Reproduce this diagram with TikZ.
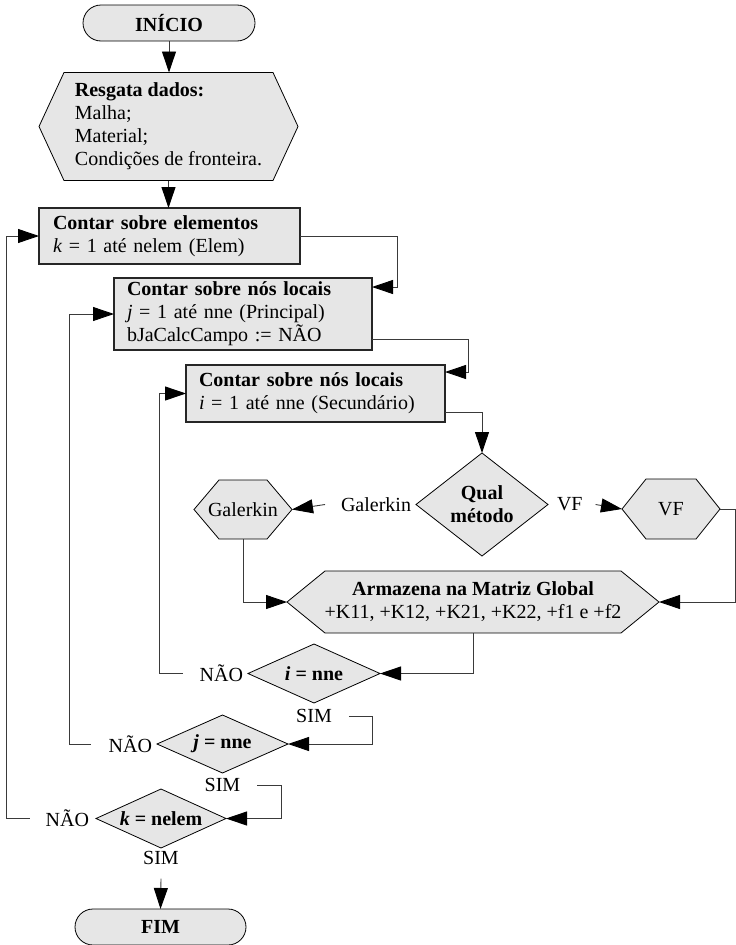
\documentclass[tikz,border=0pt]{standalone}
\usepackage{fontspec}
\setmainfont{Liberation Serif}
\usetikzlibrary{arrows.meta,calc}
\pgfdeclarelayer{bg}
\pgfsetlayers{bg,main}
\definecolor{shapefill}{HTML}{E6E6E6}
\definecolor{linegray}{HTML}{3A3A3A}
\tikzset{
  base/.style={inner sep=0pt, outer sep=0pt, font=\fontsize{20}{23}\selectfont},
  termnode/.style={base, draw=black, line width=0.8pt, fill=shapefill, rounded corners=18pt},
  boxnode/.style={base, draw=black!85, line width=1.2pt, fill=shapefill, align=left},
  shapenode/.style={base, draw=none, align=center},
  lbl/.style={base},
  shapeline/.style={draw=black, line width=0.8pt, fill=shapefill},
  arr/.style={-{Triangle[length=21pt,width=14pt,color=black]}, line width=0.9pt, draw=linegray},
  ln/.style={line width=0.9pt, draw=linegray}
}
\newcommand\diabg[1]{\path[shapeline] (#1.north) -- (#1.east) -- (#1.south) -- (#1.west) -- cycle;}
\newcommand\hexbg[2]{\path[shapeline] ($(#1.north west)+(#2,0)$) -- ($(#1.north east)+(-#2,0)$) -- (#1.east) -- ($(#1.south east)+(-#2,0)$) -- ($(#1.south west)+(#2,0)$) -- (#1.west) -- cycle;}
\begin{document}
\begin{tikzpicture}[x=1pt,y=-1pt]
\useasboundingbox (0,0) rectangle (736,945);
% nodes
\node[termnode, minimum width=172pt, minimum height=36pt] (start) at (169,23) {\textbf{INÍCIO}};
\node[shapenode, align=left, minimum width=259pt, minimum height=108pt] (resg) at (168.5,126.5)
  {\textbf{Resgata dados:}\\Malha;\\Material;\\Condições de fronteira.};
\node[boxnode, inner xsep=14pt, text width=233pt, minimum height=56pt] (b1) at (169.5,236)
  {\textbf{Contar sobre elementos}\\\textit{k} = 1 até nelem (Elem)};
\node[boxnode, inner xsep=13pt, text width=232pt, minimum height=72pt] (b2) at (243,314)
  {\textbf{Contar sobre nós locais}\\\textit{j} = 1 até nne (Principal)\\bJaCalcCampo := NÃO};
\node[boxnode, inner xsep=13pt, text width=233pt, minimum height=57pt] (b3) at (315.5,393.5)
  {\textbf{Contar sobre nós locais}\\\textit{i} = 1 até nne (Secundário)};
\node[shapenode, minimum width=132pt, minimum height=103pt] (qual) at (482,504.5) {\textbf{Qual}\\\textbf{método}};
\node[shapenode, minimum width=98pt, minimum height=59pt] (gal) at (243,509.5) {Galerkin};
\node[shapenode, minimum width=98pt, minimum height=60pt] (vf) at (671,509) {VF};
\node[shapenode, minimum width=372pt, minimum height=62pt] (arm) at (473,602)
  {\textbf{Armazena na Matriz Global}\\+K11, +K12, +K21, +K22, +f1 e +f2};
\node[shapenode, minimum width=132pt, minimum height=59pt] (di) at (314,673.5) {\textbf{\textit{i} = nne}};
\node[shapenode, minimum width=131pt, minimum height=58pt] (dj) at (222.5,744) {\textbf{\textit{j} = nne}};
\node[shapenode, minimum width=130pt, minimum height=59pt] (dk) at (161,818.5) {\textbf{\textit{k} = nelem}};
\node[termnode, minimum width=171pt, minimum height=36pt] (fim) at (160.5,927) {\textbf{FIM}};
% labels
\node[lbl, anchor=east] (lgal) at ($(qual.west)+(-5,0)$) {Galerkin};
\node[lbl, anchor=west] (lvf) at ($(qual.east)+(9,0)$) {VF};
\node[lbl, anchor=east] (naoi) at ($(di.west)+(-5,0)$) {NÃO};
\node[lbl, anchor=east] (naoj) at ($(dj.west)+(-5,0)$) {NÃO};
\node[lbl, anchor=east] (naok) at ($(dk.west)+(-7,0)$) {NÃO};
\node[lbl] (simi) at ($(di.south)+(0,13)$) {SIM};
\node[lbl] (simj) at ($(dj.south)+(0,12)$) {SIM};
\node[lbl] (simk) at ($(dk.south)+(0,10)$) {SIM};
% background shapes
\begin{pgfonlayer}{bg}
\hexbg{resg}{25}
\hexbg{gal}{25}
\hexbg{vf}{24}
\hexbg{arm}{38}
\diabg{qual}
\diabg{di}
\diabg{dj}
\diabg{dk}
\end{pgfonlayer}
% helper coordinates
\coordinate (c12) at (397,287);
\coordinate (c23) at (468,372);
\coordinate (cvf) at (735,509);
\coordinate (xi) at (159,0);
\coordinate (xj) at (69,0);
\coordinate (xk) at (6,0);
\coordinate (xsi) at (372,0);
\coordinate (xsj) at (281,0);
\path ($(naoi.west)+(-17,0)$) coordinate (pi);
\path ($(naoj.west)+(-18,0)$) coordinate (pj);
\path ($(naok.west)+(-16,0)$) coordinate (pk);
\path ($(simi.east)+(17,0)$) coordinate (si);
\path ($(simj.east)+(17,0)$) coordinate (sj);
% connectors
\draw[arr] (start.south) -- (start.south |- resg.north);
\draw[arr] (resg.south) -- (resg.south |- b1.north);
\draw[arr] (b1.east) -| (c12) -- (c12 -| b2.east);
\draw[arr] ($(b2.east)+(0,25)$) -| (c23) -- (c23 -| b3.east);
\draw[arr] ($(b3.east)+(0,18.5)$) -| (qual.north);
\draw[arr] ($(lgal.west)+(-16,0)$) -- (gal.east);
\draw[arr] ($(lvf.east)+(13,0)$) -- (vf.west);
\draw[arr] (gal.south) |- (arm.west);
\draw[arr] (vf.east) -- (cvf) |- (arm.east);
\draw[arr] (arm.south) |- (di.east);
\draw[arr] (pi) -- (pi -| xi) |- (b3.west);
\draw[arr] (si) -- (si -| xsi) |- (dj.east);
\draw[arr] (pj) -- (pj -| xj) |- (b2.west);
\draw[arr] (sj) -- (sj -| xsj) |- (dk.east);
\draw[arr] (pk) -- (pk -| xk) |- (b1.west);
\draw[arr] ($(simk.south)+(0,14)$) -- (fim.north);
\end{tikzpicture}
\end{document}
